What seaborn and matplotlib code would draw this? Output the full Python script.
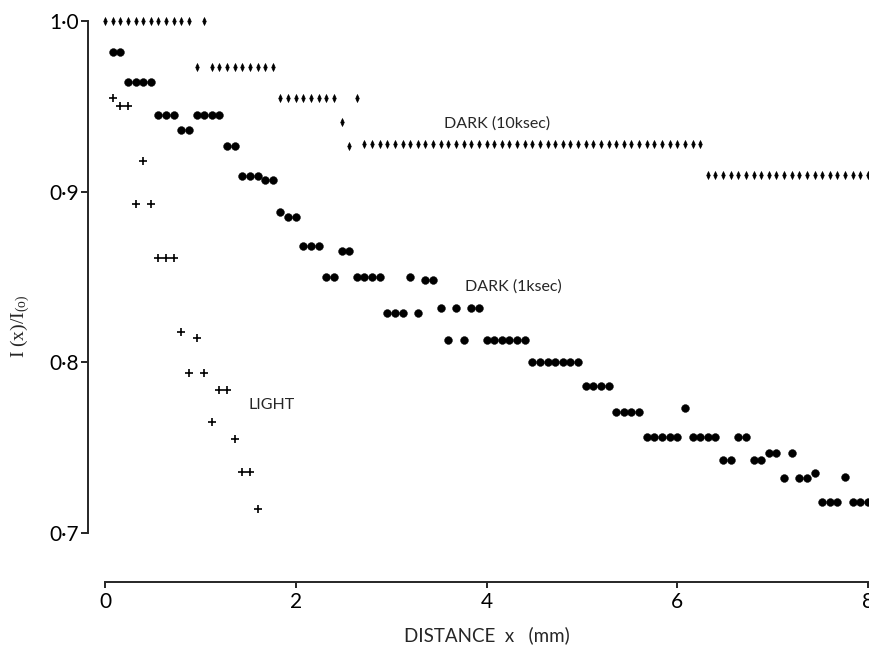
import numpy as np
import pandas as pd
import matplotlib
matplotlib.use("Agg")
import matplotlib.pyplot as plt
from matplotlib.path import Path
import seaborn as sns

# DARK (10ksec) - thin diamonds
dark10_x = [0.00, 0.08, 0.16, 0.24, 0.32, 0.40, 0.48, 0.56, 0.64, 0.72, 0.80, 0.88,
            0.96, 1.04, 1.12, 1.20, 1.28, 1.36, 1.44, 1.52, 1.60, 1.68, 1.76,
            1.84, 1.92, 2.00, 2.08, 2.16, 2.24, 2.32, 2.40, 2.48, 2.56, 2.64,
            2.72, 2.80, 2.88, 2.96, 3.04, 3.12, 3.20, 3.28, 3.36, 3.44, 3.52, 3.60,
            3.68, 3.76, 3.84, 3.92, 4.00, 4.08, 4.16, 4.24, 4.32, 4.40, 4.48, 4.56,
            4.64, 4.72, 4.80, 4.88, 4.96, 5.04, 5.12, 5.20, 5.28, 5.36, 5.44, 5.52,
            5.60, 5.68, 5.76, 5.84, 5.92, 6.00, 6.08, 6.16, 6.24,
            6.32, 6.40, 6.48, 6.56, 6.64, 6.72, 6.80, 6.88, 6.96, 7.04, 7.12, 7.20,
            7.28, 7.36, 7.44, 7.52, 7.60, 7.68, 7.76, 7.84, 7.92, 8.00]
dark10_y = [1.000, 1.000, 1.000, 1.000, 1.000, 1.000, 1.000, 1.000, 1.000, 1.000, 1.000, 1.000,
            0.973, 1.000, 0.973, 0.973, 0.973, 0.973, 0.973, 0.973, 0.973, 0.973, 0.973,
            0.955, 0.955, 0.955, 0.955, 0.955, 0.955, 0.955, 0.955, 0.941, 0.927, 0.955,
            0.928, 0.928, 0.928, 0.928, 0.928, 0.928, 0.928, 0.928, 0.928, 0.928, 0.928, 0.928,
            0.928, 0.928, 0.928, 0.928, 0.928, 0.928, 0.928, 0.928, 0.928, 0.928, 0.928, 0.928,
            0.928, 0.928, 0.928, 0.928, 0.928, 0.928, 0.928, 0.928, 0.928, 0.928, 0.928, 0.928,
            0.928, 0.928, 0.928, 0.928, 0.928, 0.928, 0.928, 0.928, 0.928,
            0.910, 0.910, 0.910, 0.910, 0.910, 0.910, 0.910, 0.910, 0.910, 0.910, 0.910, 0.910,
            0.910, 0.910, 0.910, 0.910, 0.910, 0.910, 0.910, 0.910, 0.910, 0.910]

# DARK (1ksec) - dots
dark1_x = [0.08, 0.16, 0.24, 0.32, 0.40, 0.48, 0.56, 0.64, 0.72, 0.80, 0.88,
           0.96, 1.04, 1.12, 1.20, 1.28, 1.36, 1.44, 1.52, 1.60, 1.68, 1.76,
           1.84, 1.92, 2.00, 2.08, 2.16, 2.24, 2.32, 2.40, 2.48, 2.56, 2.64,
           2.72, 2.80, 2.88, 2.96, 3.04, 3.12, 3.20, 3.28, 3.36, 3.44, 3.52, 3.60,
           3.68, 3.76, 3.84, 3.92, 4.00, 4.08, 4.16, 4.24, 4.32, 4.40, 4.48, 4.56,
           4.64, 4.72, 4.80, 4.88, 4.96, 5.04, 5.12, 5.20, 5.28, 5.36, 5.44, 5.52,
           5.60, 5.68, 5.76, 5.84, 5.92, 6.00, 6.08, 6.16, 6.24,
           6.32, 6.40, 6.48, 6.56, 6.64, 6.72, 6.80, 6.88, 6.96, 7.04, 7.12, 7.20,
           7.28, 7.36, 7.44, 7.52, 7.60, 7.68, 7.76, 7.84, 7.92, 8.00]
dark1_y = [0.982, 0.982, 0.964, 0.964, 0.964, 0.964, 0.945, 0.945, 0.945, 0.936, 0.936,
           0.945, 0.945, 0.945, 0.945, 0.927, 0.927, 0.909, 0.909, 0.909, 0.907, 0.907,
           0.888, 0.885, 0.885, 0.868, 0.868, 0.868, 0.850, 0.850, 0.865, 0.865, 0.850,
           0.850, 0.850, 0.850, 0.829, 0.829, 0.829, 0.850, 0.829, 0.848, 0.848, 0.832, 0.813,
           0.832, 0.813, 0.832, 0.832, 0.813, 0.813, 0.813, 0.813, 0.813, 0.813, 0.800, 0.800,
           0.800, 0.800, 0.800, 0.800, 0.800, 0.786, 0.786, 0.786, 0.786, 0.771, 0.771, 0.771,
           0.771, 0.756, 0.756, 0.756, 0.756, 0.756, 0.773, 0.756, 0.756,
           0.756, 0.756, 0.743, 0.743, 0.756, 0.756, 0.743, 0.743, 0.747, 0.747, 0.732, 0.747,
           0.732, 0.732, 0.735, 0.718, 0.718, 0.718, 0.733, 0.718, 0.718, 0.718]

# LIGHT - crosses
light_x = [0.08, 0.16, 0.24, 0.32, 0.40, 0.48, 0.56, 0.64, 0.72, 0.80,
           0.88, 0.96, 1.04, 1.12, 1.20, 1.28, 1.36, 1.44, 1.52, 1.60]
light_y = [0.955, 0.950, 0.950, 0.893, 0.918, 0.893, 0.861, 0.861, 0.861, 0.818,
           0.794, 0.814, 0.794, 0.765, 0.784, 0.784, 0.755, 0.736, 0.736, 0.714]

x_ticks = [0, 2, 4, 6, 8]
x_tick_labels = ["0", "2", "4", "6", "8"]
y_ticks = [0.7, 0.8, 0.9, 1.0]
y_tick_labels = ["0·7", "0·8", "0·9", "1·0"]

sns.set_style("ticks")
plt.rcParams["font.family"] = ["Lato", "DejaVu Sans"]
plt.rcParams["mathtext.default"] = "regular"

fig = plt.figure(figsize=(8.7, 6.46), dpi=100)
ax = fig.add_axes([105 / 870, 113 / 646, 763 / 870, 512 / 646])

# tall narrow diamond marker
thin_diamond = Path([(0, 1), (0.45, 0), (0, -1), (-0.45, 0), (0, 1)],
                    [Path.MOVETO, Path.LINETO, Path.LINETO, Path.LINETO, Path.CLOSEPOLY])

sns.scatterplot(x=dark10_x, y=dark10_y, marker=thin_diamond, s=32, color="black",
                edgecolor="black", linewidth=0.5, clip_on=False, ax=ax)
sns.scatterplot(x=dark1_x, y=dark1_y, marker="o", s=32, color="black",
                edgecolor="black", linewidth=0.3, clip_on=False, ax=ax)
sns.scatterplot(x=light_x, y=light_y, marker="+", s=32, color="black",
                linewidth=1.2, clip_on=False, ax=ax)

ax.set_xlim(0, 8)
ax.set_ylim(0.7, 1.0)
ax.set_xticks(x_ticks)
ax.set_xticklabels(x_tick_labels)
ax.set_yticks(y_ticks)
ax.set_yticklabels(y_tick_labels)

sns.despine(ax=ax)
ax.spines["left"].set_position(("outward", 12))
ax.spines["bottom"].set_position(("outward", 35))
ax.spines["left"].set_bounds(0.7, 1.0)
ax.spines["bottom"].set_bounds(0, 8)
ax.spines["left"].set_linewidth(1.4)
ax.spines["bottom"].set_linewidth(1.4)
ax.tick_params(axis="y", direction="out", length=5, width=1.2, pad=2,
               colors="black", labelsize=15)
ax.tick_params(axis="x", direction="out", length=4.5, width=1.2, pad=3,
               colors="black", labelsize=15)

ax.text(3.55, 0.940, "DARK (10ksec)", fontsize=11.5, va="center")
ax.text(3.77, 0.8445, "DARK (1ksec)", fontsize=11.5, va="center")
ax.text(1.50, 0.775, "LIGHT", fontsize=11.5, va="center")

ax.set_xlabel("DISTANCE  x   (mm)", fontsize=13.5, labelpad=10)
fig.text(20 / 870, 1 - 326 / 646, "I (x)/I$_{(o)}$", rotation=90, fontsize=14,
         family=["Liberation Serif", "DejaVu Serif"], ha="center", va="center")

fig.savefig("out.png", dpi=100, facecolor="white")
